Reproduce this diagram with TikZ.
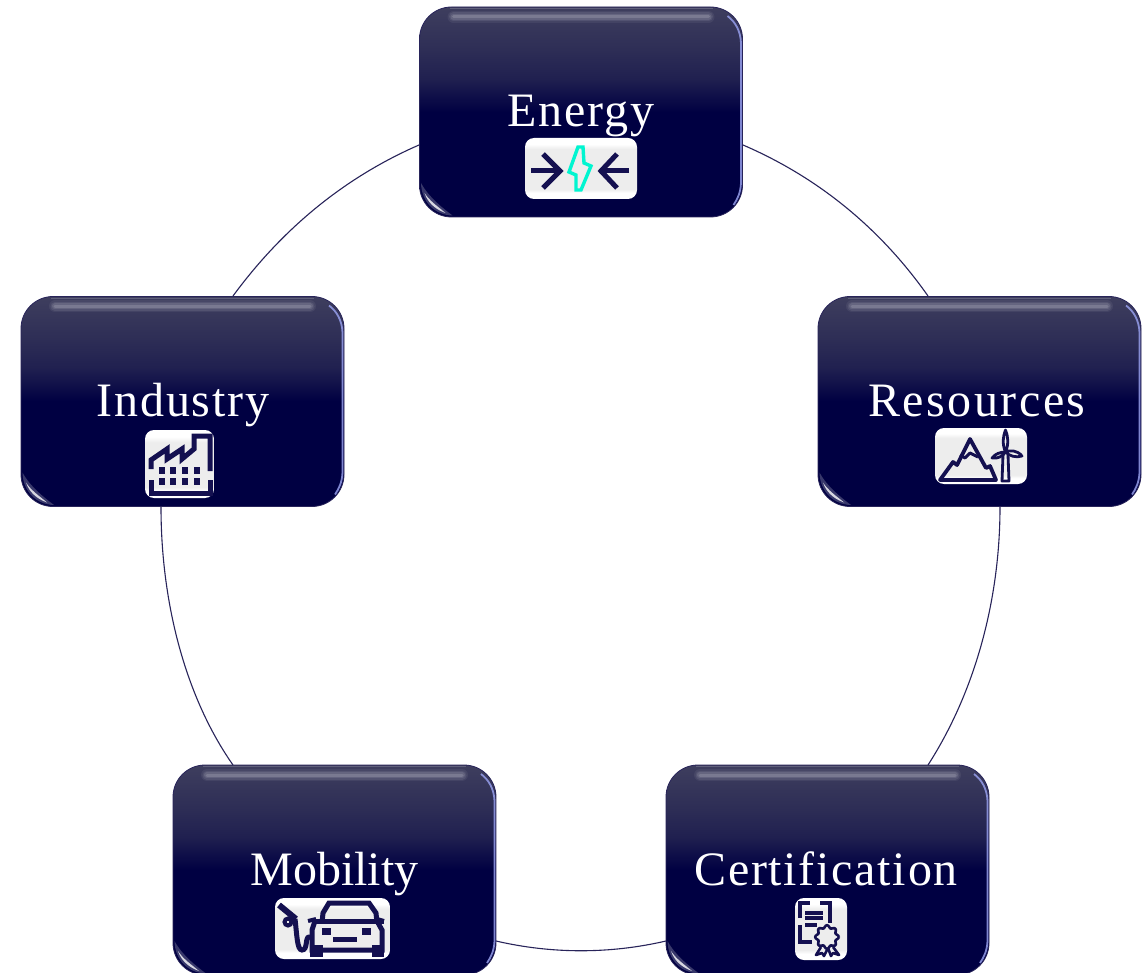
\documentclass[tikz,border=0pt]{standalone}
\usepackage{fontspec}
\setmainfont{Liberation Serif}
\usetikzlibrary{calc}
\definecolor{pnavy}{RGB}{0,0,66}
\definecolor{ptop}{RGB}{62,62,94}
\definecolor{pmid}{RGB}{46,46,86}
\definecolor{ring}{RGB}{40,36,90}
\definecolor{icon}{RGB}{20,16,80}
\definecolor{bolt}{RGB}{0,245,208}
\definecolor{pedge}{RGB}{150,158,235}
\pgfdeclareverticalshading{panelshade}{100bp}{color(0bp)=(pnavy); color(25bp)=(pnavy); color(50bp)=(pnavy); color(58bp)=(pmid!70!pnavy); color(65bp)=(pmid); color(75bp)=(ptop); color(100bp)=(ptop)}
\pgfdeclareverticalshading{plateshade}{100bp}{color(0bp)=(white); color(25bp)=(white); color(30bp)=(white); color(33bp)=(gray!14); color(66bp)=(gray!14); color(70bp)=(white); color(75bp)=(white); color(100bp)=(white)}
\tikzset{
  panel/.style={rectangle,rounded corners=32pt,minimum width=323pt,minimum height=210pt,inner sep=0pt,shading=panelshade,draw=ring,line width=.8pt},
  plate/.style={rectangle,rounded corners=9pt,inner sep=0pt,shading=plateshade},
  ringline/.style={draw=ring,line width=1.1pt},
  label/.style={text=white,anchor=base,inner sep=0pt,font=\fontsize{48}{48}\selectfont},
  ic/.style={draw=icon,line width=5pt,line join=miter},
  icthin/.style={draw=icon,line width=3.8pt,line join=round},
}
% #1 name, #2 left, #3 top
\newcommand{\panelbox}[3]{%
  \node[panel] (#1) at ({#2+161.5},{#3+105}) {};
  \foreach \wd/\op in {12/.06,9/.08,6/.10,3/.14}{
    \draw[white,line width=\wd pt,opacity=\op,line cap=round] ({#2+34},{#3+10}) -- ({#2+289},{#3+10});
  }
  \draw[white,line width=.8pt,opacity=.18] ({#2+30},{#3+1.5}) -- ({#2+293},{#3+1.5});
  \draw[pedge,line width=1.8pt,opacity=.85] ({#2+308},{#3+9}) .. controls ({#2+316},{#3+15}) and ({#2+321},{#3+24}) .. ({#2+321.5},{#3+36}) -- ({#2+321.5},{#3+176}) .. controls ({#2+321},{#3+186}) and ({#2+318},{#3+192}) .. ({#2+314},{#3+198});
  \fill[white,opacity=.22] ({#2+1.5},{#3+176}) .. controls ({#2+2},{#3+195}) and ({#2+15},{#3+208}) .. ({#2+33},{#3+208.5}) .. controls ({#2+23},{#3+201}) and ({#2+9},{#3+190}) .. cycle;
  \fill[white,opacity=.8] ({#2+5},{#3+186}) .. controls ({#2+8},{#3+195}) and ({#2+15},{#3+202}) .. ({#2+26},{#3+206}) .. controls ({#2+19},{#3+200}) and ({#2+10},{#3+194}) .. cycle;
}
% #1 name, #2 x1, #3 y1, #4 x2, #5 y2
\newcommand{\iconplate}[5]{%
  \node[plate,minimum width={(#4-#2)*1pt},minimum height={(#5-#3)*1pt}] (#1) at ({(#2+#4)/2},{(#3+#5)/2}) {};
}
\begin{document}
\begin{tikzpicture}[x=1pt,y=-1pt]
\useasboundingbox (0,0) rectangle (1143,973);
\fill[white] (0,0) rectangle (1143,973);
\coordinate (b1) at (743,145);
\coordinate (b2) at (1000,507);
\coordinate (b3) at (666,941);
\coordinate (b4) at (233,765);
\coordinate (b5) at (233,296);
\coordinate (c1) at (928,296);
\coordinate (c2) at (928,765);
\coordinate (c3) at (496,941);
\coordinate (c4) at (161,507);
\coordinate (c5) at (419,145);
\draw[ringline] (b1) .. controls (822,179) and (883,232) .. (c1);
\draw[ringline] (b2) .. controls (1000,600) and (975,692) .. (c2);
\draw[ringline] (b3) .. controls (610,954) and (552,954) .. (c3);
\draw[ringline] (b4) .. controls (186,698) and (161,604) .. (c4);
\draw[ringline] (b5) .. controls (280,232) and (341,179) .. (c5);

\panelbox{energy}{419.5}{7}
\panelbox{resources}{818}{296.5}
\panelbox{industry}{21}{296.5}
\panelbox{mobility}{173}{765}
\panelbox{certification}{666}{765}

\node[label] (tEnergy) at (581,127) {\addfontfeature{LetterSpace=4}Energy};
\node[label] (tResources) at (977,416) {\addfontfeature{LetterSpace=5.2}Resources};
\node[label] (tIndustry) at (183,416) {\addfontfeature{LetterSpace=3.6}Industry};
\node[label] (tMobility) at (334.5,885) {Mobility};
\node[label] (tCertification) at (826,885) {\addfontfeature{LetterSpace=3.6}Certification};

% Energy icon
\iconplate{pEnergy}{525}{138}{637}{199}
\draw[ic] (531,171) -- (560,171);
\draw[ic] (543,154) -- (560,171) -- (543,188);
\draw[ic] (629,171) -- (601,171);
\draw[ic] (617,154) -- (601,171) -- (617,188);
\draw[bolt,line width=3.4pt,line join=miter] (578,147) -- (583,147) -- (584,163) -- (591,166) -- (581,190) -- (576,190) -- (576,175) -- (569,172) -- cycle;

% Industry icon
\iconplate{pIndustry}{145}{430}{214}{498}
\draw[ic] (151,469) -- (151,460) -- (167,449) -- (167,459) -- (182,449) -- (182,459) -- (194,449) -- (194,436) -- (210,436) -- (210,471);
\draw[ic] (151,480) -- (151,493) -- (210,493) -- (210,480);
\foreach \wx in {162,173,185,197}{
  \fill[icon] (\wx-3,467) rectangle (\wx+3,474);
  \fill[icon] (\wx-3,478) rectangle (\wx+3,485);
}

% Resources icon
\iconplate{pResources}{935}{428}{1027}{484}
\draw[icthin] (940,480) -- (953,462) -- (957,465) -- (970,439) -- (986,468) -- (990,466) -- (996,480) -- cycle;
\draw[icthin,line width=3pt] (960,455) -- (965,458) -- (970,453) -- (978,457);
\draw[icthin,line width=2.8pt] (1003,455) -- (1002,481) -- (1009,481) -- (1008,455);
\draw[icthin,line width=2.8pt] (1005.5,452) .. controls (1002,444) and (1003,436) .. (1005.5,430) .. controls (1008,436) and (1009,444) .. (1005.5,452)
  .. controls (1000,452) and (995,454) .. (992,458) .. controls (998,459) and (1003,456) .. (1005.5,452)
  .. controls (1010,450) and (1017,450) .. (1022,456) .. controls (1016,458) and (1009,456) .. (1005.5,452);

% Mobility icon
\iconplate{pMobility}{275}{898}{390}{959}
\draw[ic] (322,923) -- (323,913) -- (329,903) -- (369,903) -- (376,913) -- (377,923);
\draw[ic] (315,921) -- (384,921);
\draw[ic] (315,921) -- (312,930) -- (312,950) -- (382,950) -- (382,930) -- (377,921);
\fill[icon] (310,945) rectangle (323,957);
\fill[icon] (372,945) rectangle (384,957);
\draw[ic,line width=4pt] (308,921) -- (316,919);
\draw[ic,line width=4pt] (377,919) -- (384,921);
\fill[icon] (322,928) rectangle (331,935);
\fill[icon] (362,928) rectangle (371,935);
\fill[icon] (333,937) rectangle (357,942);
\draw[ic,line width=6pt] (279,905) -- (296,919);
\draw[ic,line width=4pt] (288,922) circle (3.5);
\draw[ic] (295,919) .. controls (297,935) and (297,950) .. (302,950) .. controls (308,950) and (305,937) .. (309,937) -- (312,937);

% Certification icon
\iconplate{pCertification}{795}{898}{847}{960}
\draw[icthin,line join=miter] (800,918) -- (800,903) -- (810,903);
\draw[icthin,line join=miter] (820,903) -- (830,903) -- (830,923);
\draw[icthin,line join=miter] (800,925) -- (800,942) -- (812,942);
\draw[icthin] (805,913) -- (823,913);
\draw[icthin] (805,918) -- (823,918);
\draw[icthin] (805,925) -- (817,925);
\draw[icon,line width=2.6pt,line join=round] plot[domain=0:360,samples=65,smooth] ({827+(10.5+1.3*cos(8*\x))*cos(\x)},{937+(10.5+1.3*cos(8*\x))*sin(\x)});
\draw[icon,line width=2.6pt,line join=round] (821,947) -- (816,955) -- (822,953) -- (824,956) -- (828,948);
\draw[icon,line width=2.6pt,line join=round] (833,947) -- (839,955) -- (833,953) -- (831,956) -- (828,948);
\end{tikzpicture}
\end{document}
